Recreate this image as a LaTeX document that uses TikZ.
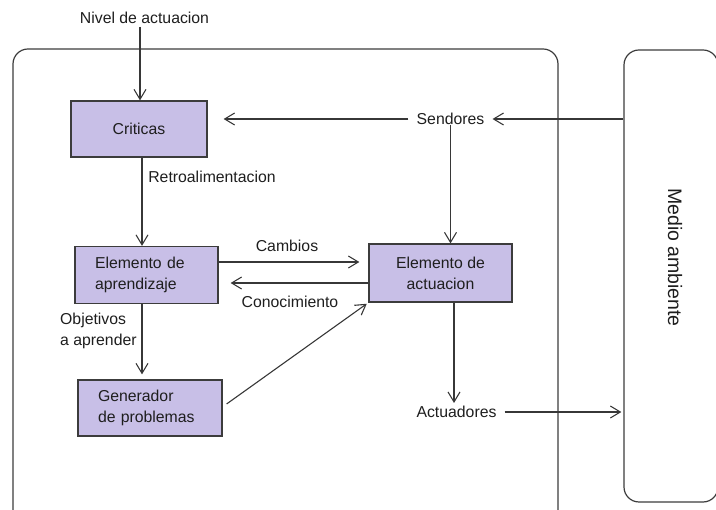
\documentclass[tikz,border=0pt]{standalone}
\usepackage{fontspec}
\setmainfont{Liberation Sans}
\usetikzlibrary{arrows.meta}
\definecolor{boxfill}{RGB}{200,191,231}
\definecolor{boxline}{RGB}{60,60,60}
\definecolor{wire}{RGB}{55,55,55}
\definecolor{ink}{RGB}{30,30,30}
\begin{document}
\begin{tikzpicture}[x=1pt,y=-1pt,
  font=\fontsize{15.8}{21}\selectfont,
  every node/.style={text=ink},
  box/.style={draw=boxline, fill=boxfill, line width=1.2pt},
  frame/.style={draw=boxline, line width=1.2pt, rounded corners=15pt, inner sep=0pt},
  lbl/.style={inner sep=3pt},
  arr/.style={draw=wire, line width=1.1pt, -{Straight Barb[length=10pt,width=12pt]}},
  wireline/.style={draw=wire, line width=1.1pt}]
  \useasboundingbox (0,0) rectangle (716,510);
  \clip (0,0) rectangle (716,510);

  % agent frame and environment frame (both run past the page edge)
  \node[frame, minimum width=545, minimum height=481] (agente) at (285.5,289.5) {};
  \node[frame, minimum width=94, minimum height=452] (medio) at (671,276) {};
  \node[rotate=-90, lbl, font=\fontsize{19.5}{23}\selectfont] (medioLbl) at (675,257.5) {Medio ambiente};

  % components
  \node[box, minimum width=136, minimum height=56] (criticas) at (139,129) {Criticas};
  \node[box, text width=103, inner xsep=20, minimum height=57, align=left] (aprendizaje) at (146.5,275) {Elemento de\\aprendizaje};
  \node[box, text width=104, inner xsep=20, minimum height=56, align=left] (generador) at (150,408) {Generador\\de problemas};
  \node[box, minimum width=143, minimum height=58, align=center] (actuacion) at (440.5,273) {Elemento de\\actuacion};

  % free labels
  \node[lbl] (nivel) at (144.5,18) {Nivel de actuacion};
  \node[lbl, inner xsep=8pt] (sendores) at (450.5,119) {Sendores};
  \node[lbl, inner xsep=8pt] (actuadores) at (456.5,412) {Actuadores};
  \node[lbl] (retro) at (212,177) {Retroalimentacion};
  \node[lbl] (cambios) at (287,246) {Cambios};
  \node[lbl] (conoc) at (290,302) {Conocimiento};
  \node[lbl, anchor=west, align=left, inner xsep=0pt] (objetivos) at (60,331) {Objetivos\\a aprender};

  % connectors
  \draw[arr] (nivel.south -| 140,0) -- (140,0 |- criticas.north);
  \draw[arr] (medio.west |- sendores) -- (sendores.east);
  \draw[arr, shorten >=16pt] (sendores.west) -- (criticas.east |- sendores);
  \draw[arr] (sendores.base) -- (sendores.base |- actuacion.north);
  \draw[arr] ([xshift=3pt]criticas.south) -- ([xshift=3pt]criticas.south |- aprendizaje.north);
  \draw[arr, shorten >=5pt] (142,0 |- aprendizaje.south) -- (142,0 |- generador.north);
  \draw[arr, shorten >=9pt] ([yshift=13pt]aprendizaje.east) -- ([yshift=13pt]aprendizaje.east -| actuacion.west);
  \draw[arr, shorten >=12pt] ([yshift=-10pt]actuacion.west) -- ([yshift=-10pt]actuacion.west -| aprendizaje.east);
  \draw[arr, shorten >=2pt] ([shift={(4pt,4pt)}]generador.east) -- (actuacion.south west);
  \draw[arr] (actuacion.south -| 454,0) -- (454,0 |- actuadores.north);
  \draw[arr, shorten >=2pt] (actuadores.east) -- (actuadores.east -| medio.west);
\end{tikzpicture}
\end{document}
